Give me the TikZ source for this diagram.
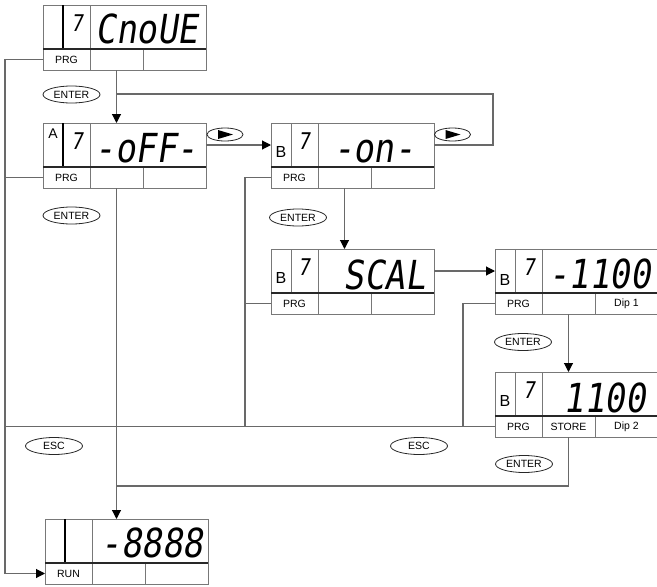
\documentclass[tikz,border=0pt]{standalone}
\usepackage{fontspec}
\setmainfont{Liberation Sans}
\newfontfamily\segfont[FakeSlant=0.15,FakeStretch=0.85]{DejaVu Sans Mono}
\usetikzlibrary{arrows.meta,shapes.geometric}
\definecolor{lgray}{RGB}{120,120,120}
\definecolor{cgray}{RGB}{105,105,105}
\definecolor{dline}{RGB}{40,40,40}
\tikzset{
 topcell/.style={draw=lgray,line width=1pt,minimum height=44pt,inner sep=0pt,outer sep=0pt,anchor=north west},
 botcell/.style={draw=lgray,line width=1pt,minimum height=21pt,inner sep=0pt,outer sep=0pt,anchor=north west,font=\fontsize{10.5}{12}\selectfont},
 midsep/.style={draw=dline,line width=1.8pt},
 thicksep/.style={draw=black,line width=2.4pt},
 seg/.style={font=\fontsize{40}{40}\segfont,inner sep=0pt},
 sevn/.style={font=\fontsize{23}{23}\segfont,anchor=base,inner sep=0pt},
 letA/.style={font=\fontsize{14}{14}\selectfont,anchor=base,inner sep=0pt},
 letB/.style={font=\fontsize{16}{16}\selectfont,anchor=base,inner sep=0pt},
 conn/.style={draw=cgray,line width=1.1pt},
 arr/.style={conn,-{Triangle[length=9pt,width=9pt,color=black]}},
 key/.style={draw=dline,ellipse,line width=0.8pt,minimum width=57pt,minimum height=17pt,inner sep=0pt,font=\fontsize{10.5}{12}\selectfont},
 playkey/.style={draw=dline,ellipse,line width=0.8pt,minimum width=36pt,minimum height=13pt,inner sep=0pt},
}
% #1 name, #2 x, #3 y, #4 first bottom label, #5 thick separator (1/0), #6 middle label, #7 right label
\newcommand\mkdisp[7]{%
  \node[topcell,minimum width=20pt] (#1-c1) at (#2,#3) {};
  \node[topcell,minimum width=27pt] (#1-c2) at (#2+20,#3) {};
  \node[topcell,minimum width=116pt] (#1-main) at (#2+47,#3) {};
  \node[botcell,minimum width=47pt] (#1-prg) at (#2,#3+44) {#4};
  \node[botcell,minimum width=53pt] (#1-mid) at (#2+47,#3+44) {#6};
  \node[botcell,minimum width=63pt] (#1-rt) at (#2+100,#3+44) {#7};
  \ifnum#5=1 \draw[thicksep] (#1-c1.north east) -- (#1-c1.south east);\fi
  \draw[midsep] (#1-c1.south west) -- (#1-main.south east);
}
\begin{document}
\begin{tikzpicture}[x=1pt,y=-1pt]
\useasboundingbox (0,0) rectangle (657,587);
% displays
\mkdisp{D0}{43}{5}{PRG}{1}{}{}
\mkdisp{A}{43}{123}{PRG}{1}{}{}
\mkdisp{B}{271}{123}{PRG}{0}{}{}
\mkdisp{SC}{271}{249}{PRG}{0}{}{}
\mkdisp{D1}{495}{249}{PRG}{0}{}{Dip 1}
\mkdisp{ST}{495}{372}{PRG}{0}{STORE}{Dip 2}
\mkdisp{RUN}{45}{519}{RUN}{1}{}{}
% display texts
\node[seg,anchor=base] (D0-t) at (147,43) {CnoUE};
\node[seg,anchor=base] (A-t) at (146,162) {-oFF-};
\node[seg,anchor=base] (B-t) at (374,162) {-on-};
\node[seg,anchor=base east] (SC-t) at (426,289) {SCAL};
\node[seg,anchor=base west] (D1-t) at (548,288) {-1100};
\node[seg,anchor=base east] (ST-t) at (646,412) {1100};
\node[seg,anchor=base] (RUN-t) at (152,557) {-8888};
% small digits and letters
\node[sevn] (D0-7) at (77,31) {7};
\node[sevn] (A-7) at (77,149) {7};
\node[sevn] (B-7) at (304,149) {7};
\node[sevn] (SC-7) at (304,275) {7};
\node[sevn] (D1-7) at (529,275) {7};
\node[sevn] (ST-7) at (529,398) {7};
\node[letA] (A-l) at (53,138) {A};
\node[letB] (B-l) at (281,157) {B};
\node[letB] (SC-l) at (281,283) {B};
\node[letB] (D1-l) at (505,285) {B};
\node[letB] (ST-l) at (505,406) {B};
% keys
\node[key] (k1) at (71.5,94.5) {ENTER};
\node[key] (k2) at (71.5,215.5) {ENTER};
\node[key] (k3) at (298,217.5) {ENTER};
\node[key] (k4) at (523,342) {ENTER};
\node[key] (k5) at (524,464) {ENTER};
\node[key] (e1) at (54,446) {ESC};
\node[key] (e2) at (419,446) {ESC};
\node[playkey] (p1) at (225,134.5) {};
\node[playkey] (p2) at (452.5,134.5) {};
\fill ([shift={(-7,-4.5)}]p1.center) -- ++(15,4.5) -- ++(-15,4.5) -- cycle;
\fill ([shift={(-7,-4.5)}]p2.center) -- ++(15,4.5) -- ++(-15,4.5) -- cycle;
% guide coordinates
\coordinate (L0) at (5,0);
\coordinate (L1) at (245,0);
\coordinate (L2) at (463,0);
\coordinate (loopR) at (493,94);
\coordinate (Lb) at (0,486);
% connectors
\draw[arr] (D0-mid.south) -- (D0-mid.south |- A-main.north);
\draw[conn] (B-main.east) -| (loopR) -- (loopR -| D0-mid.south);
\draw[arr] (D0-prg.west) -- (D0-prg.west -| L0) |- (RUN-prg.west);
\draw[conn] (A-prg.west) -- (A-prg.west -| L0);
\draw[arr] (A-main.east) -- (B-c1.west);
\draw[arr] (A-mid.south) -- (A-mid.south |- RUN-main.north);
\draw[conn] (B-prg.west) -| (L1 |- ST-prg.west);
\draw[conn] (SC-prg.west) -- (SC-prg.west -| L1);
\draw[arr] (B-mid.south) -- (B-mid.south |- SC-main.north);
\draw[arr] (SC-main.east) -- (D1-c1.west);
\draw[conn] (D1-prg.west) -| (L2 |- ST-prg.west);
\draw[arr] (D1-mid.south) -- (D1-mid.south |- ST-main.north);
\draw[conn] (ST-prg.west) -- (ST-prg.west -| L0);
\draw[conn] (ST-mid.south) |- (Lb -| A-mid.south);
\end{tikzpicture}
\end{document}
